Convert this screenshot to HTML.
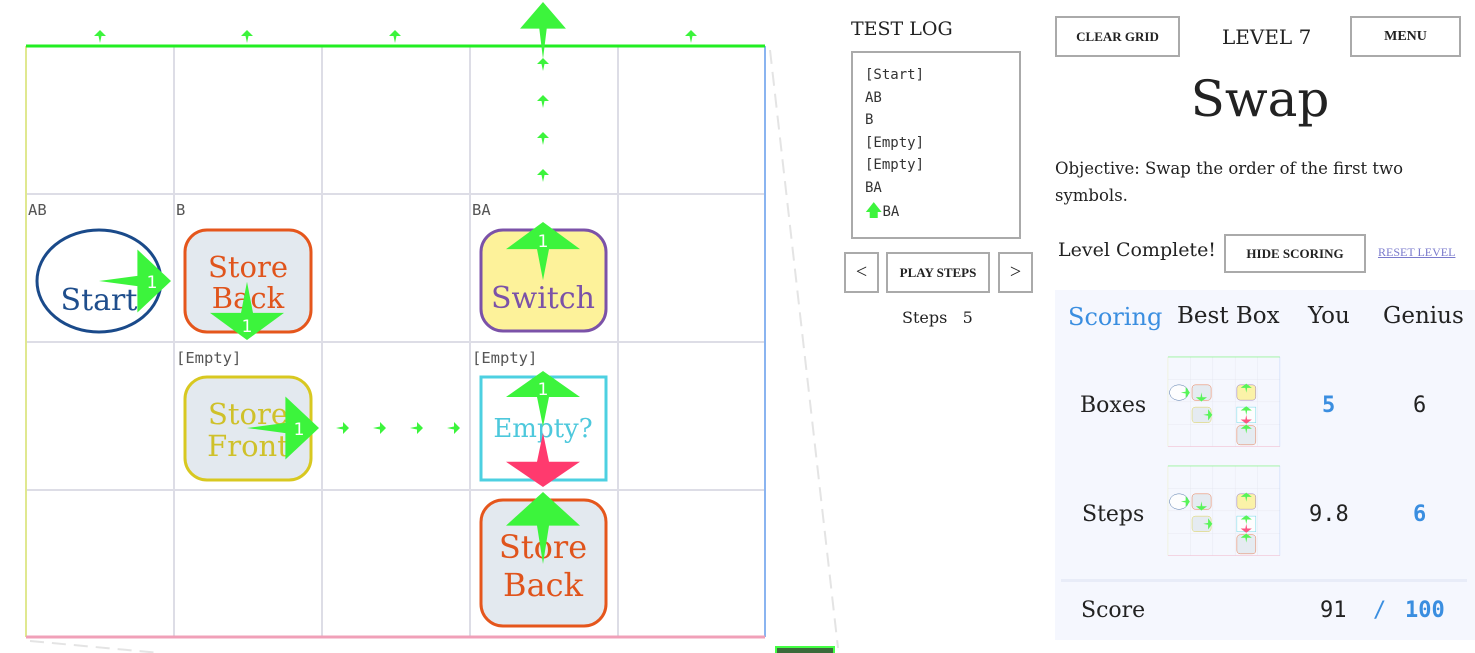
<!DOCTYPE html>
<html><head><meta charset="utf-8"><style>
*{margin:0;padding:0;box-sizing:border-box}
body{width:1475px;height:653px;background:#fff;position:relative;overflow:hidden;font-family:"DejaVu Serif","Liberation Serif",serif;color:#222}
.a{position:absolute;white-space:nowrap}
.btn{position:absolute;border:2px solid #aaa;background:#fff;font-family:"Liberation Serif",serif;font-weight:bold;font-size:13px;display:flex;align-items:center;justify-content:center;color:#222}
.mono{font-family:"DejaVu Sans Mono","Liberation Mono",monospace}
</style></head><body>
<div class="a" style="left:1055px;top:290px;width:420px;height:350px;background:#f5f7fe"></div>
<svg class="a" style="left:0;top:0" width="1475" height="653" viewBox="0 0 1475 653">
<defs>
<path id="ar" d="M0,0 L37,28 L6,28 L0,60 L-6,28 L-37,28 Z"/>
<path id="sm" d="M0,0 L6,6 L1.5,6 L0,13 L-1.5,6 L-6,6 Z"/>
<g id="shapes">
<ellipse cx="99" cy="281" rx="62" ry="51" fill="#fff" stroke="#1a4a8a" stroke-width="3"/>
<rect x="185" y="230" width="126" height="102" rx="22" fill="#e3e9ef" stroke="#e5561c" stroke-width="3"/>
<rect x="481" y="230" width="125" height="101" rx="22" fill="#fdf29a" stroke="#7b52a8" stroke-width="3"/>
<rect x="185" y="377" width="126" height="103" rx="22" fill="#e3e9ef" stroke="#d8c820" stroke-width="3"/>
<rect x="481" y="377" width="125" height="103" fill="#fff" stroke="#4dd0e1" stroke-width="3"/>
<rect x="481" y="500" width="125" height="126" rx="22" fill="#e3e9ef" stroke="#e5561c" stroke-width="3"/>
</g>
<g id="grid" fill="none">
<g stroke="#dddde6" stroke-width="2">
<line x1="174" y1="46" x2="174" y2="637"/><line x1="322" y1="46" x2="322" y2="637"/><line x1="470" y1="46" x2="470" y2="637"/><line x1="618" y1="46" x2="618" y2="637"/>
<line x1="26" y1="194" x2="765" y2="194"/><line x1="26" y1="342" x2="765" y2="342"/><line x1="26" y1="490" x2="765" y2="490"/>
</g>
<line x1="26" y1="46" x2="26" y2="637" stroke="#e0e890" stroke-width="2"/>
<line x1="765" y1="46" x2="765" y2="637" stroke="#8ab4f0" stroke-width="2"/>
<line x1="26" y1="637" x2="765" y2="637" stroke="#f0a0b8" stroke-width="3"/>
<line x1="26" y1="46" x2="765" y2="46" stroke="#22ee22" stroke-width="3"/>
</g>
<g id="arrows">
<g fill="#3cf43c"><use href="#ar" transform="translate(543,222)"/><use href="#ar" transform="translate(171,281) rotate(90)"/><use href="#ar" transform="translate(247,340) rotate(180)"/><use href="#ar" transform="translate(319,428) rotate(90)"/><use href="#ar" transform="translate(543,371)"/><use href="#ar" transform="translate(543,492)"/></g>
<use href="#ar" fill="#ff3a6e" transform="translate(543,487) rotate(180)"/>
</g>
</defs>
<line x1="30" y1="641" x2="160" y2="653" stroke="#e4e4e4" stroke-width="2" stroke-dasharray="14 8"/>
<line x1="770" y1="50" x2="838" y2="648" stroke="#e4e4e4" stroke-width="2" stroke-dasharray="14 8"/>
<rect x="776" y="647" width="58" height="8" fill="#3a6a3a" stroke="#4f4" stroke-width="2"/>
<use href="#grid"/>
<use href="#shapes"/>
<g font-family="DejaVu Sans Mono,Liberation Mono,monospace" font-size="15.5" fill="#555">
<text x="28" y="215">AB</text><text x="176" y="215">B</text><text x="472" y="215">BA</text>
<text x="176" y="363">[Empty]</text><text x="472" y="363">[Empty]</text>
</g>
<g font-family="DejaVu Serif,Liberation Serif,serif" font-size="29" text-anchor="middle">
<text x="99" y="310" fill="#1f4e8c" font-size="30">Start</text>
<text x="248" y="277" fill="#e0541c">Store</text><text x="248" y="308" fill="#e0541c">Back</text>
<text x="543" y="308" fill="#7b52a8" font-size="30">Switch</text>
<text x="248" y="424" fill="#cfc12a">Store</text><text x="248" y="456" fill="#cfc12a">Front</text>
<text x="543" y="437" fill="#4dc8dc" font-size="26">Empty?</text>
<text x="543" y="558" fill="#e0541c" font-size="32">Store</text><text x="543" y="596" fill="#e0541c" font-size="32">Back</text>
</g>
<g fill="#3cf43c">
<use href="#ar" transform="translate(543,2) scale(0.62,0.95)"/>
<use href="#sm" transform="translate(100,30)"/><use href="#sm" transform="translate(247,30)"/><use href="#sm" transform="translate(395,30)"/><use href="#sm" transform="translate(691,30)"/>
<use href="#sm" transform="translate(543,58)"/><use href="#sm" transform="translate(543,95)"/><use href="#sm" transform="translate(543,132)"/><use href="#sm" transform="translate(543,169)"/>
<use href="#sm" transform="translate(349,428) rotate(90)"/><use href="#sm" transform="translate(386,428) rotate(90)"/><use href="#sm" transform="translate(423,428) rotate(90)"/><use href="#sm" transform="translate(460,428) rotate(90)"/>
<use href="#ar" transform="translate(543,222) scale(1,0.97)"/>
<use href="#ar" transform="translate(171,281) rotate(90) scale(0.85,1.2)"/>
<use href="#ar" transform="translate(247,340) rotate(180) scale(1,0.97)"/>
<use href="#ar" transform="translate(319,428) rotate(90) scale(0.85,1.2)"/>
<use href="#ar" transform="translate(543,371) scale(1,0.93)"/>
<use href="#ar" transform="translate(543,492) scale(1,1.2)"/>
</g>
<use href="#ar" fill="#ff3a6e" transform="translate(543,487) rotate(180) scale(1,0.9)"/>
<g fill="#fff" font-family="DejaVu Sans,Liberation Sans,sans-serif" font-size="17" text-anchor="middle">
<text x="543" y="247">1</text><text x="152" y="288">1</text><text x="247" y="332">1</text><text x="299" y="435">1</text><text x="543" y="395">1</text>
</g>
<g transform="translate(1164,350) scale(0.1515)" opacity="0.85"><use href="#grid"/><use href="#shapes"/><use href="#arrows"/></g>
<g transform="translate(1164,459) scale(0.1515)" opacity="0.85"><use href="#grid"/><use href="#shapes"/><use href="#arrows"/></g>
</svg>

<div class="a" style="left:851px;top:18px;font-size:19px">TEST LOG</div>
<div class="a mono" style="left:851px;top:51px;width:170px;height:188px;border:2px solid #aaa;padding:11px 0 0 12px;font-size:14px;line-height:22.6px;color:#333">[Start]<br>AB<br>B<br>[Empty]<br>[Empty]<br>BA<br><span style="color:#3cf43c;font-size:17px">🡅</span>BA</div>
<div class="btn" style="left:844px;top:252px;width:35px;height:41px;font-weight:normal;font-size:20px">&lt;</div>
<div class="btn" style="left:886px;top:252px;width:104px;height:41px">PLAY STEPS</div>
<div class="btn" style="left:998px;top:252px;width:35px;height:41px;font-weight:normal;font-size:20px">&gt;</div>
<div class="a" style="left:902px;top:308px;font-size:16px">Steps &nbsp;&nbsp;5</div>

<div class="btn" style="left:1055px;top:16px;width:125px;height:41px">CLEAR GRID</div>
<div class="a" style="left:1222px;top:25px;font-size:20px">LEVEL 7</div>
<div class="btn" style="left:1350px;top:16px;width:111px;height:41px;font-size:14px">MENU</div>
<div class="a" style="left:1260px;top:70px;transform:translateX(-50%);font-size:50px">Swap</div>
<div class="a" style="left:1055px;top:155px;font-size:16.5px;line-height:27px">Objective: Swap the order of the first two<br>symbols.</div>
<div class="a" style="left:1058px;top:239px;font-size:19px">Level Complete!</div>
<div class="btn" style="left:1224px;top:234px;width:142px;height:39px">HIDE SCORING</div>
<div class="a" style="left:1378px;top:245px;font-size:12px;color:#7a7acc;text-decoration:underline;font-family:'Liberation Serif',serif">RESET LEVEL</div>

<div class="a" style="left:1068px;top:303px;font-size:24px;color:#3a8ee0">Scoring</div>
<div class="a" style="left:1177px;top:303px;font-size:23px">Best Box</div>
<div class="a" style="left:1308px;top:303px;font-size:23px">You</div>
<div class="a" style="left:1383px;top:303px;font-size:23px">Genius</div>
<div class="a" style="left:1080px;top:393px;font-size:22px">Boxes</div>
<div class="a mono" style="left:1322px;top:393px;font-size:22px;color:#3a8ee0;font-weight:bold">5</div>
<div class="a mono" style="left:1413px;top:393px;font-size:22px">6</div>
<div class="a" style="left:1082px;top:502px;font-size:22px">Steps</div>
<div class="a mono" style="left:1309px;top:502px;font-size:22px">9.8</div>
<div class="a mono" style="left:1413px;top:502px;font-size:22px;color:#3a8ee0;font-weight:bold">6</div>
<div class="a" style="left:1061px;top:579px;width:406px;height:3px;background:#e8ecf8"></div>
<div class="a" style="left:1081px;top:598px;font-size:22px">Score</div>
<div class="a mono" style="left:1320px;top:598px;font-size:22px">91</div>
<div class="a mono" style="left:1373px;top:598px;font-size:22px;color:#3a8ee0">/</div>
<div class="a mono" style="left:1405px;top:598px;font-size:22px;color:#3a8ee0;font-weight:bold">100</div>
</body></html>
